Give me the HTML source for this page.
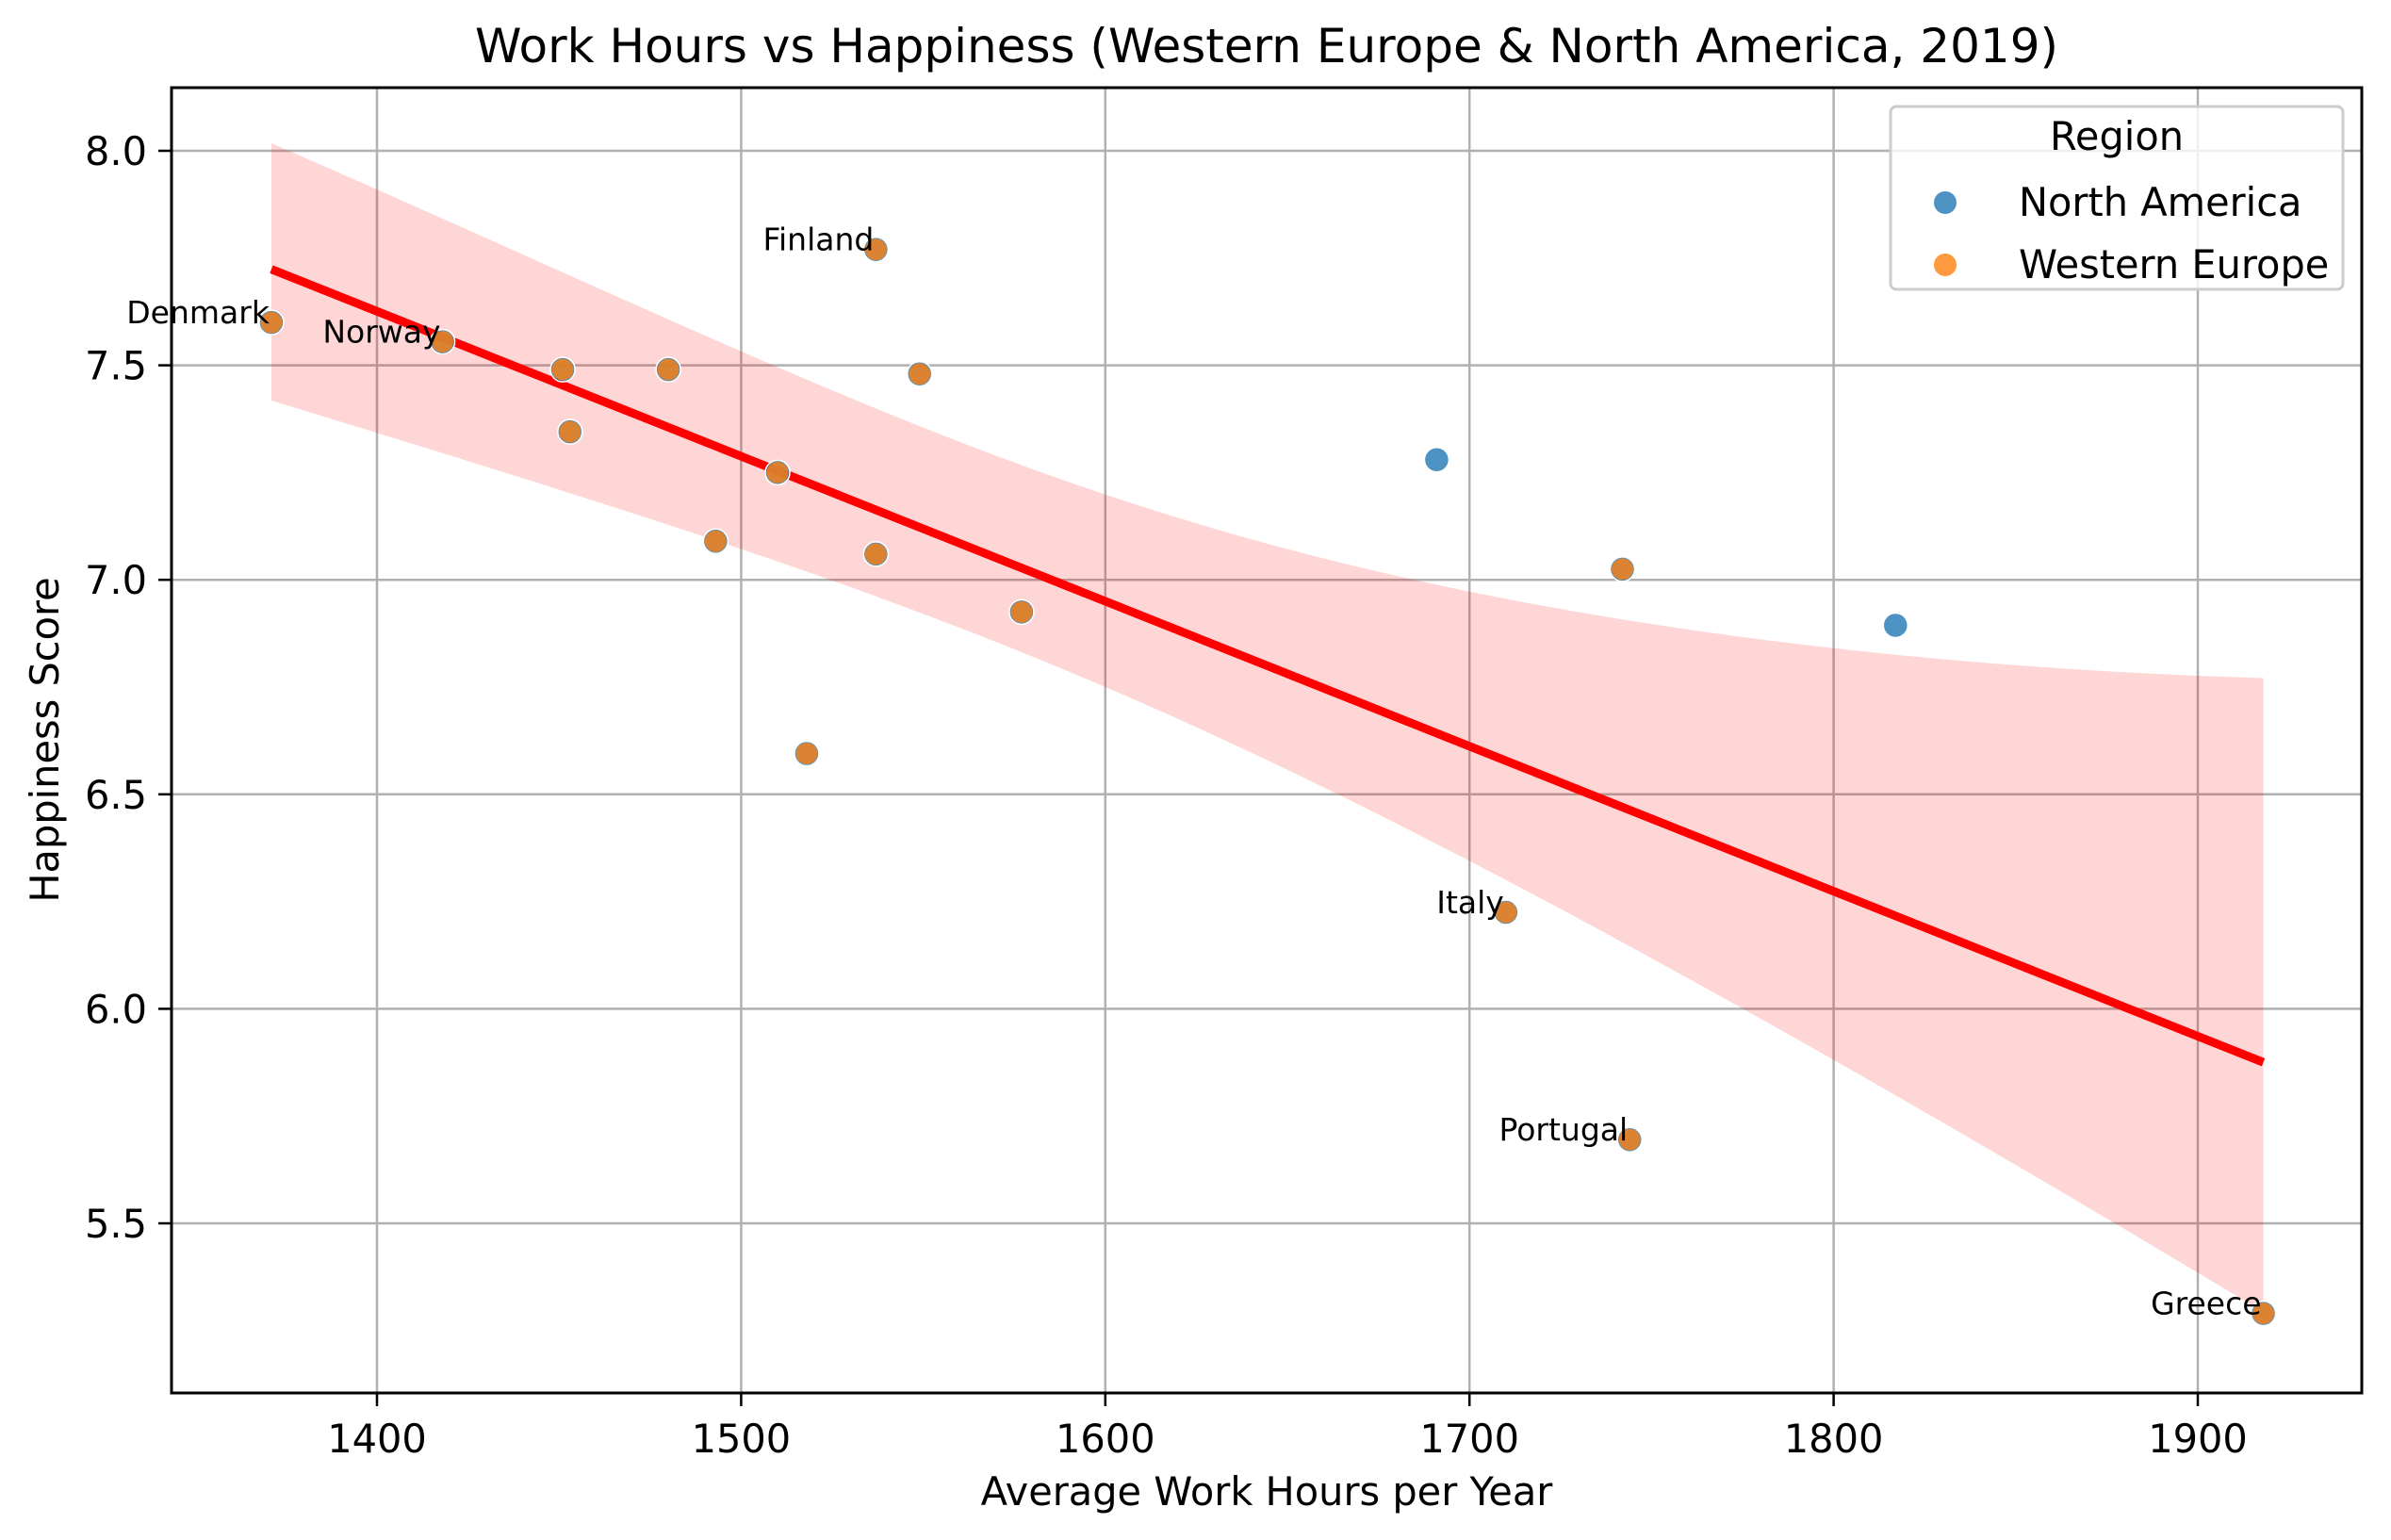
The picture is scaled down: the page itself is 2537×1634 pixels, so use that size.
<!DOCTYPE html>
<html><head><meta charset="utf-8"><style>
html,body{margin:0;padding:0;background:#fff}
svg{display:block;font-family:"DejaVu Sans","Liberation Sans",sans-serif}
</style></head><body>
<svg id="chart" width="2537" height="1634" viewBox="0 0 2537 1634">
<rect width="2537" height="1634" fill="#fff"/>
<g id="grid"></g>
<g id="band"></g>
<g id="pts"></g>
<g id="ann"></g>
<rect x="182" y="93" width="2324" height="1385" fill="none" stroke="#000" stroke-width="3"/>
<g id="ticks"></g>
<text x="1344" y="66" text-anchor="middle" font-size="50">Work Hours vs Happiness (Western Europe &amp; North America, 2019)</text>
<text x="1344" y="1597" text-anchor="middle" font-size="41.5">Average Work Hours per Year</text>
<text x="0" y="0" transform="translate(62,785) rotate(-90)" text-anchor="middle" font-size="41.5">Happiness Score</text>
<g>
<rect x="2006" y="113" width="480" height="194" rx="6" fill="#fff" fill-opacity="0.8" stroke="#ccc" stroke-width="3"/>
<text x="2246" y="159" text-anchor="middle" font-size="41.5">Region</text>
<g><circle cx="2064" cy="215" r="12" fill="#1f77b4" fill-opacity="0.8"/><text x="2142" y="229" font-size="41.5">North America</text></g>
<g><circle cx="2064" cy="281" r="12" fill="#ff7f0e" fill-opacity="0.8"/><text x="2142" y="295" font-size="41.5">Western Europe</text></g>
</g>
</svg>
<script>
const countries=["Denmark","Norway","C3","C4","C5","C6","C7","C8","Finland","C10","C11","C12","NA1","Italy","C15","Portugal","NA2","Greece"];
const hours=[1371,1418,1451,1453,1480,1493,1510,1518,1537,1537,1549,1577,1691,1710,1742,1744,1817,1918];
const happiness=[7.60,7.555,7.49,7.345,7.49,7.09,7.25,6.595,7.77,7.06,7.48,6.925,7.28,6.225,7.025,5.695,6.894,5.29];
const regions=["WE","WE","WE","WE","WE","WE","WE","WE","WE","WE","WE","WE","NA","WE","WE","WE","NA","WE"];
const labeled=["Denmark","Norway","Finland","Italy","Portugal","Greece"];
const xTicks=[1400,1500,1600,1700,1800,1900];
const yTicks=[5.5,6.0,6.5,7.0,7.5,8.0];
const NS="http://www.w3.org/2000/svg";
const X=v=>400+(v-1400)*3.864;
const Y=v=>160+(8-v)*455.2;
function mk(t,a,p){const e=document.createElementNS(NS,t);for(const k in a)e.setAttribute(k,a[k]);document.getElementById(p).appendChild(e);return e;}
xTicks.forEach(t=>{
 const g=mk('line',{x1:X(t),x2:X(t),y1:93,y2:1478,stroke:'#b0b0b0','stroke-width':2.5},'grid');
 
 
 mk('line',{x1:X(t),x2:X(t),y1:1478,y2:1492,stroke:'#000','stroke-width':2.5},'ticks');
 const l=mk('text',{x:X(t),y:1541,'text-anchor':'middle','font-size':41.5},'ticks');l.textContent=t;
 
 
});
yTicks.forEach(t=>{
 const g=mk('line',{x1:182,x2:2506,y1:Y(t),y2:Y(t),stroke:'#b0b0b0','stroke-width':2.5},'grid');
 
 
 mk('line',{x1:168,x2:182,y1:Y(t),y2:Y(t),stroke:'#000','stroke-width':2.5},'ticks');
 const l=mk('text',{x:156,y:Y(t)+15,'text-anchor':'end','font-size':41.5},'ticks');l.textContent=t.toFixed(1);
 
 
});
const n=hours.length,mx=hours.reduce((a,b)=>a+b)/n,my=happiness.reduce((a,b)=>a+b)/n;
let sxx=0,sxy=0;hours.forEach((x,i)=>{sxx+=(x-mx)**2;sxy+=(x-mx)*(happiness[i]-my);});
const b=sxy/sxx,a=my-b*mx;
let sse=0;hours.forEach((x,i)=>{sse+=(happiness[i]-a-b*x)**2;});
const se=Math.sqrt(sse/(n-2)),tq=2.12;
const x0=Math.min(...hours),x1=Math.max(...hours);
let up=[],lo=[];
for(let k=0;k<=60;k++){const x=x0+(x1-x0)*k/60;const t=k/60;const f=a+b*x;const h=tq*se*Math.sqrt(1/n+(x-mx)**2/sxx);
 up.push(X(x)+','+Y(f+h*(0.74+0.86*t)));lo.unshift(X(x)+','+Y(f-h*(0.77+0.27*t)));}
const band=mk('polygon',{points:up.concat(lo).join(' '),fill:'#ff0000','fill-opacity':0.16},'band');


const rl=mk('line',{x1:X(x0),y1:Y(a+b*x0),x2:X(x1),y2:Y(a+b*x1),stroke:'#ff0000','stroke-width':9},'band');


hours.forEach((h,i)=>{
 const c=mk('circle',{cx:X(h),cy:Y(happiness[i]),r:13,fill:'#1f77b4','fill-opacity':0.8,stroke:'#fff','stroke-width':1.5},'pts');
 
 
 if(regions[i]==='WE'){const o=mk('circle',{cx:X(h),cy:Y(happiness[i]),r:11.5,fill:'#ff7f0e','fill-opacity':0.8},'pts');
  
  }
 if(labeled.includes(countries[i])){const t=mk('text',{x:X(h)-2,y:Y(happiness[i])+1,'text-anchor':'end','font-size':33},'ann');t.textContent=countries[i];
  
  }
});
</script>
</body></html>
